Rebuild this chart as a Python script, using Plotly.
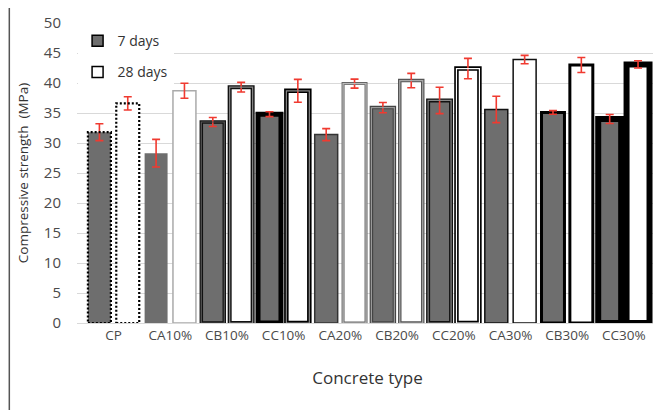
import plotly.graph_objects as go

categories = ["CP", "CA10%", "CB10%", "CC10%", "CA20%", "CB20%", "CC20%", "CA30%", "CB30%", "CC30%"]
days7 = [31.8, 28.3, 33.5, 34.8, 31.4, 35.9, 37.1, 35.6, 35.1, 34.0]
days7_err = [1.4, 2.3, 0.75, 0.4, 1.0, 0.85, 2.2, 2.2, 0.3, 0.75]
days28 = [36.6, 38.7, 39.3, 38.7, 39.9, 40.4, 42.4, 43.9, 43.0, 43.1]
days28_err = [1.1, 1.25, 0.8, 1.9, 0.75, 1.2, 1.7, 0.7, 1.25, 0.6]
yticks = [0, 5, 10, 15, 20, 25, 30, 35, 40, 45, 50]

# outline styles per bar (outer line + optional thin centre stripe for double borders)
line7_color = ["#000000", "#6e6e6e", "#111111", "#000000", "#333333", "#444444", "#111111", "#111111", "#000000", "#000000"]
line7_width = [0, 0, 3.5, 5, 1.5, 3.5, 4, 1.5, 3, 6]
stripe7_color = [None, None, "#555555", None, None, "#999999", "#888888", None, None, None]
line28_color = ["#000000", "#aaaaaa", "#111111", "#000000", "#666666", "#555555", "#000000", "#111111", "#000000", "#000000"]
line28_width = [0, 1.5, 4, 4.5, 3, 3.5, 4.5, 1.5, 3, 6]
stripe28_color = [None, None, "#888888", "#888888", "#bbbbbb", "#aaaaaa", "#ffffff", None, None, None]

GRAY = "#6e6e6e"
RED = "#f03a30"
BARGROUPGAP = 0.19
FONT = "Open Sans"

fig = go.Figure()
fig.add_trace(go.Bar(
    x=categories, y=days7, name="7 days", showlegend=False,
    marker=dict(color=GRAY, line=dict(color=line7_color, width=line7_width)),
    error_y=dict(type="data", array=days7_err, color=RED, thickness=1.6, width=4),
))
fig.add_trace(go.Bar(
    x=categories, y=days28, name="28 days", showlegend=False,
    marker=dict(color="white", line=dict(color=line28_color, width=line28_width)),
    error_y=dict(type="data", array=days28_err, color=RED, thickness=1.6, width=4),
))
# legend-only entries
fig.add_trace(go.Scatter(x=[None], y=[None], mode="markers", name="7 days", legendgroup="a",
                         marker=dict(symbol="square", size=11, color=GRAY, line=dict(color="black", width=1.5))))
fig.add_trace(go.Scatter(x=[None], y=[None], mode="markers", name="28 days", legendgroup="b",
                         marker=dict(symbol="square", size=11, color="white", line=dict(color="black", width=1.5))))

# bar geometry from group layout (bargap=0, two bars per category)
half = 0.5 * (1 - BARGROUPGAP) / 2
shapes = []
for vals, off, stripes in [(days7, -0.25, stripe7_color), (days28, 0.25, stripe28_color)]:
    for i, v in enumerate(vals):
        x0, x1 = i + off - half, i + off + half
        if i == 0:  # control mix: dotted outline
            shapes.append(dict(type="rect", xref="x", yref="y", x0=x0, x1=x1, y0=0, y1=v,
                               line=dict(color="black", width=2.2, dash="2px,2px"), layer="above"))
        elif stripes[i]:
            shapes.append(dict(type="rect", xref="x", yref="y", x0=x0, x1=x1, y0=0, y1=v,
                               line=dict(color=stripes[i], width=1.2), layer="above"))
# left frame line (at the very left of the figure)
shapes.append(dict(type="line", xref="paper", yref="paper", x0=-0.1165, x1=-0.1165, y0=-0.3, y1=1.1,
                   line=dict(color="#555555", width=1.5)))

# page body has an 8px margin, so the figure is shrunk and shifted to compensate
fig.update_layout(
    width=653, height=402,
    margin=dict(l=69, r=3, t=15, b=87),
    paper_bgcolor="white", plot_bgcolor="white",
    barmode="group", bargap=0, bargroupgap=BARGROUPGAP,
    font=dict(family=FONT, color="#404040"),
    shapes=shapes,
    legend=dict(x=0.001, y=0.993, xanchor="left", yanchor="top", traceorder="grouped",
                tracegroupgap=10, font=dict(size=14, color="#333333"), bgcolor="white",
                itemwidth=30),
    xaxis=dict(type="category", range=[-0.645, 9.602], tickfont=dict(size=13.5, color="#4a4a4a"),
               showline=True, linecolor="#d9d9d9", linewidth=1, ticks="", showgrid=False,
               automargin=False,
               title=dict(text="Concrete type", font=dict(size=17, color="#333333"), standoff=28)),
    yaxis=dict(range=[0, 50], tickvals=yticks, tickfont=dict(size=15, color="#4a4a4a"),
               showgrid=True, gridcolor="#d9d9d9", gridwidth=1, zeroline=False,
               ticks="outside", ticklen=12, tickcolor="white", automargin=False,
               title=dict(text="Compressive strength  (MPa)", font=dict(size=13.5, color="#333333"), standoff=12)),
)

fig.write_html("out.html")
